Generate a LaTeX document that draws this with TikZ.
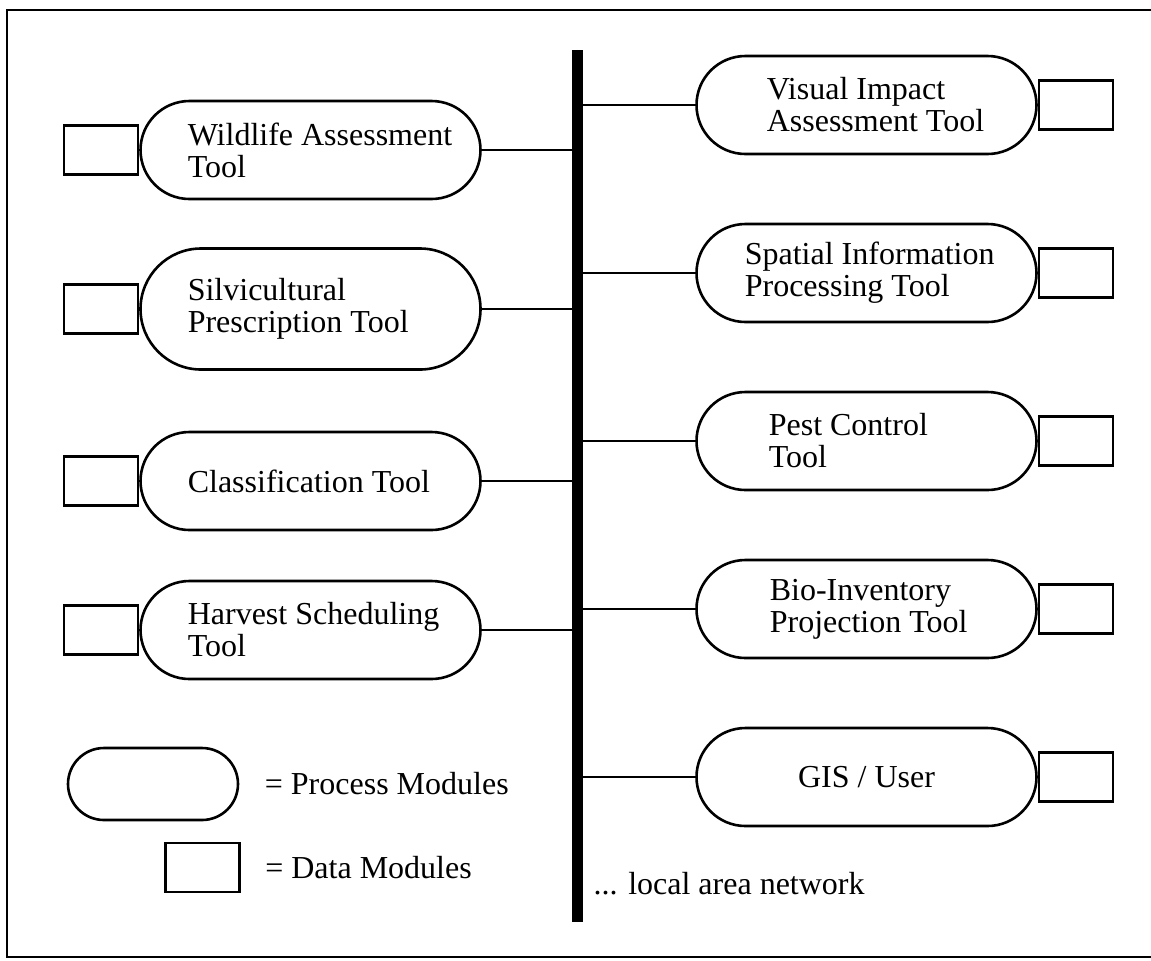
\documentclass[tikz,border=0pt]{standalone}
\usepackage{fontspec}
\setmainfont{Liberation Serif}
\usetikzlibrary{positioning, shapes.misc}

\begin{document}
\begin{tikzpicture}[
            x = 0.5pt, y = -0.5pt, % one unit = one pixel of the scan
            node distance = 0pt,
            semithick % line style
        ]

        \tikzstyle{process}=[
        draw = black,
        rounded rectangle,
        line width = 1.3pt,
        inner sep = 0pt,
        minimum width = 170pt,
        minimum height = 49pt
        ]
        \tikzstyle{datamod}=[
        draw = black,
        rectangle,
        line width = 1.2pt,
        inner sep = 0pt,
        minimum width = 37pt,
        minimum height = 24.5pt
        ]
        \tikzstyle{modtext}=[
        align = left,
        inner sep = 0pt,
        font = \fontsize{16}{16}\selectfont
        ]
        \tikzstyle{link}=[line width = 1pt]

        \useasboundingbox (0,0) rectangle (1151,960);

        % frame, open on the right
        \draw[line width = 1.4pt] (1151,10) -- (7,10) -- (7,957) -- (1151,957);

        % the local area network
        \coordinate (bustop) at (577,50);
        \coordinate (busend) at (577,922);
        \draw[line width = 5.5pt] (bustop) -- (busend);

        % left side
        \node[process] (wild) at (310.5,150) {};
        \node[process, minimum height = 60.5pt] (silv) at (310.5,309) {};
        \node[process] (class) at (310.5,481) {};
        \node[process] (harv) at (310.5,630) {};

        \node[modtext, right = 24pt of wild.west] (wildtext) {Wildlife Assessment\\Tool};
        \node[modtext, right = 24pt of silv.west] (silvtext) {Silvicultural\\Prescription Tool};
        \node[modtext, right = 24pt of class.west] (classtext) {Classification Tool};
        \node[modtext, right = 24pt of harv.west] (harvtext) {Harvest Scheduling\\Tool};

        \node[datamod, left = of wild] (wilddata) {};
        \node[datamod, left = of silv] (silvdata) {};
        \node[datamod, left = of class] (classdata) {};
        \node[datamod, left = of harv] (harvdata) {};

        \draw[link] (wild.east) -- (wild.east -| bustop);
        \draw[link] (silv.east) -- (silv.east -| bustop);
        \draw[link] (class.east) -- (class.east -| bustop);
        \draw[link] (harv.east) -- (harv.east -| bustop);

        % right side
        \node[process] (visual) at (866.5,105) {};
        \node[process] (spatial) at (866.5,273) {};
        \node[process] (pest) at (866.5,441) {};
        \node[process] (bio) at (866.5,609) {};
        \node[process, font = \fontsize{16}{16}\selectfont] (gis) at (866.5,777) {GIS / User};

        \node[modtext, right = 35.5pt of visual.west] (visualtext) {Visual Impact\\Assessment Tool};
        \node[modtext, right = 24.5pt of spatial.west] (spatialtext) {Spatial Information\\Processing Tool};
        \node[modtext, right = 36.5pt of pest.west] (pesttext) {Pest Control\\Tool};
        \node[modtext, right = 37pt of bio.west] (biotext) {Bio-Inventory\\Projection Tool};

        \node[datamod, right = of visual] (visualdata) {};
        \node[datamod, right = of spatial] (spatialdata) {};
        \node[datamod, right = of pest] (pestdata) {};
        \node[datamod, right = of bio] (biodata) {};
        \node[datamod, right = of gis] (gisdata) {};

        \draw[link] (visual.west -| bustop) -- (visual.west);
        \draw[link] (spatial.west -| bustop) -- (spatial.west);
        \draw[link] (pest.west -| bustop) -- (pest.west);
        \draw[link] (bio.west -| bustop) -- (bio.west);
        \draw[link] (gis.west -| bustop) -- (gis.west);

        % legend
        \node[process, minimum width = 85pt, minimum height = 36pt] (legproc) at (153,784) {};
        \node[modtext, right = 12.5pt of legproc] (legproctext) {= Process Modules};
        \node[datamod] (legdata) at (202.5,867.5) {};
        \node[modtext, right = 12pt of legdata] (legdatatext) {= Data Modules};

        \node[modtext, anchor = west] (lan) at (593,884) {... local area network};
    \end{tikzpicture}
\end{document}
